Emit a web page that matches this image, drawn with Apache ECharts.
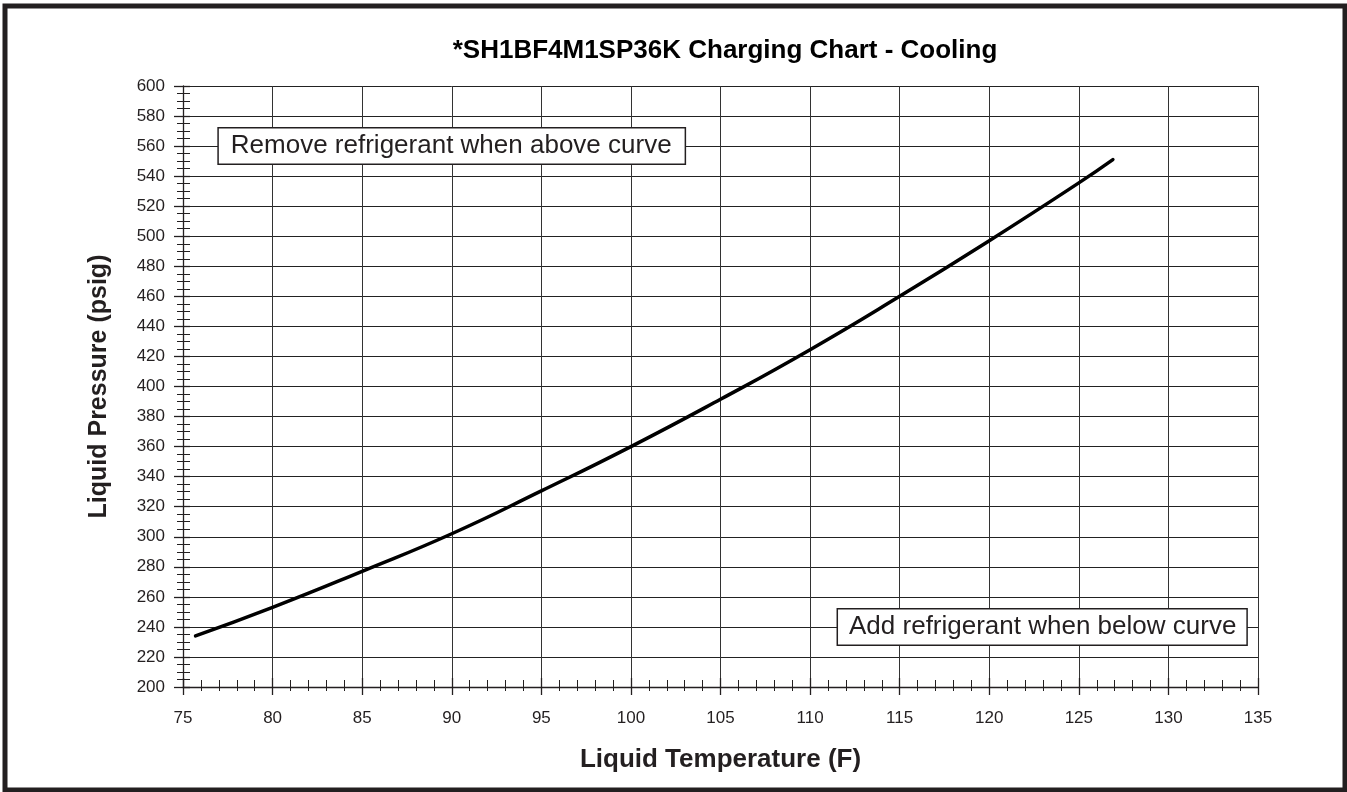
<!DOCTYPE html>
<html>
<head>
<meta charset="utf-8">
<script src="https://cdn.jsdelivr.net/npm/echarts@6/dist/echarts.min.js"></script>
<style>
html,body{margin:0;padding:0;background:#fff;}
#chart{width:1347px;height:792px;}
</style>
</head>
<body>
<div id="chart"></div>
<script>
// Data
const liquidTemp = [75.7, 80, 85, 90, 95, 100, 105, 110, 115, 120, 125, 126.9];
const liquidPressure = [234, 253, 277, 302, 330.5, 360, 391.5, 424.5, 460, 497, 535.5, 551];
const xTicks = [75, 80, 85, 90, 95, 100, 105, 110, 115, 120, 125, 130, 135];
const yTicks = [200, 220, 240, 260, 280, 300, 320, 340, 360, 380, 400, 420, 440, 460, 480, 500, 520, 540, 560, 580, 600];
const notes = [
  {text: 'Remove refrigerant when above curve', x: 77.0, y: 560, side: 'right', pad: [4, 13, 3, 12]},
  {text: 'Add refrigerant when below curve', x: 134.35, y: 240, side: 'left', pad: [4, 10, 3, 11]}
];

const FONT = '"Liberation Sans", Arial, Helvetica, sans-serif';
const INK = '#231f20';
const chart = echarts.init(document.getElementById('chart'), null, {renderer: 'canvas'});

const xMin = xTicks[0], xMax = xTicks[xTicks.length - 1];
const yMin = yTicks[0], yMax = yTicks[yTicks.length - 1];

function xAxisCfg(primary) {
  return {
    type: 'value', min: xMin, max: xMax, interval: 5, position: 'bottom',
    name: primary ? 'Liquid Temperature (F)' : '',
    nameLocation: 'middle', nameGap: 60,
    nameTextStyle: {fontFamily: FONT, fontWeight: 'bold', fontSize: 26, color: INK},
    axisLine: {show: primary, onZero: false, lineStyle: {color: INK, width: 1.3}},
    axisTick: {show: true, inside: !primary, length: primary ? 8 : 9, lineStyle: {color: INK, width: 1.3}},
    minorTick: {show: true, splitNumber: 5, length: primary ? 4 : 7, lineStyle: {color: INK, width: 1}},
    axisLabel: {show: primary, margin: 23, fontFamily: FONT, fontSize: 17, color: INK},
    splitLine: {show: primary, lineStyle: {color: '#333', width: 1}},
    minorSplitLine: {show: false}
  };
}
function yAxisCfg(primary) {
  return {
    type: 'value', min: yMin, max: yMax, interval: 20, position: 'left',
    name: primary ? 'Liquid Pressure (psig)' : '',
    nameLocation: 'middle', nameGap: 71, nameRotate: 90,
    nameTextStyle: {fontFamily: FONT, fontWeight: 'bold', fontSize: 25, color: INK},
    axisLine: {show: primary, onZero: false, lineStyle: {color: INK, width: 1.3}},
    axisTick: {show: true, inside: !primary, length: primary ? 9 : 7, lineStyle: {color: INK, width: 1.3}},
    minorTick: {show: true, splitNumber: 4, length: primary ? 6 : 7, lineStyle: {color: INK, width: 1}},
    axisLabel: {show: primary, margin: 18, fontFamily: FONT, fontSize: 17, color: INK},
    splitLine: {show: primary, lineStyle: {color: '#222', width: 1}},
    minorSplitLine: {show: false}
  };
}

const option = {
  backgroundColor: '#fff',
  animation: false,
  title: {
    text: '*SH1BF4M1SP36K Charging Chart - Cooling',
    left: 720, top: 33, textAlign: 'center',
    textStyle: {fontFamily: FONT, fontWeight: 'bold', fontSize: 26, color: '#000'}
  },
  grid: {left: 183, right: 89, top: 86, bottom: 105, containLabel: false},
  xAxis: [xAxisCfg(true), xAxisCfg(false)],
  yAxis: [yAxisCfg(true), yAxisCfg(false)],
  graphic: [{
    type: 'rect', silent: true, z: 100,
    shape: {x: 5, y: 6, width: 1340, height: 784},
    style: {fill: null, stroke: INK, lineWidth: 5}
  }],
  series: [
    {
      type: 'line', xAxisIndex: 0, yAxisIndex: 0,
      data: liquidTemp.map((t, i) => [t, liquidPressure[i]]),
      smooth: 0.5, showSymbol: false, symbol: 'none',
      lineStyle: {color: '#000', width: 3.5, cap: 'round'},
      z: 5
    },
    {
      type: 'scatter', xAxisIndex: 0, yAxisIndex: 0,
      symbolSize: 0, z: 10,
      itemStyle: {opacity: 1},
      data: notes.map(n => ({
        value: [n.x, n.y],
        label: {
          show: true, position: n.side, distance: 0,
          formatter: n.text,
          fontFamily: FONT, fontSize: 26, color: INK,
          backgroundColor: '#fff', borderColor: INK, borderWidth: 1.5,
          padding: n.pad, lineHeight: 28
        }
      }))
    }
  ]
};
chart.setOption(option);
</script>
</body>
</html>
